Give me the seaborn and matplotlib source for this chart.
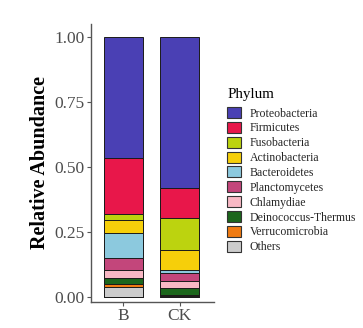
import matplotlib
matplotlib.use("Agg")
import matplotlib.pyplot as plt
from matplotlib.patches import Patch
import seaborn as sns
import pandas as pd
import numpy as np

samples = ["B", "CK"]
phyla = ["Proteobacteria", "Firmicutes", "Fusobacteria", "Actinobacteria",
         "Bacteroidetes", "Planctomycetes", "Chlamydiae", "Deinococcus-Thermus",
         "Verrucomicrobia", "Others"]
abund_B = [0.465, 0.215, 0.023, 0.048, 0.096, 0.049, 0.030, 0.021, 0.011, 0.041]
abund_CK = [0.582, 0.112, 0.126, 0.074, 0.013, 0.029, 0.028, 0.027, 0.005, 0.004]
colors = ["#4A40B4", "#E8174A", "#BCD30F", "#F6CF0A", "#8CC9DE",
          "#C3467B", "#F8B8C4", "#1C661C", "#F07B12", "#CCCCCC"]
y_ticks = [0.00, 0.25, 0.50, 0.75, 1.00]
y_tick_labels = ["0.00", "0.25", "0.50", "0.75", "1.00"]

sns.set_theme(style="white")
plt.rcParams["font.family"] = ["Liberation Serif", "DejaVu Serif"]

rows = []
for s, vals in zip(samples, [abund_B, abund_CK]):
    # cumulative from bottom (Others) upward
    cum = np.cumsum(vals[::-1])[::-1]
    for p, v, c in zip(phyla, vals, cum):
        rows.append({"Sample": s, "Phylum": p, "Abundance": v, "Cum": c})
df = pd.DataFrame(rows)

fig = plt.figure(figsize=(3.63, 3.28), dpi=100)
ax = fig.add_axes([0.25, 0.0802, 0.3395, 0.8466])

for p, col in zip(phyla, colors):
    sub = df[df["Phylum"] == p]
    sns.barplot(data=sub, x="Sample", y="Cum", order=samples, color=col,
                width=0.7, edgecolor="#1a1a1a", linewidth=0.7,
                saturation=1, errorbar=None, ax=ax)

ax.set_xlim(-0.58, 1.61)
ax.set_ylim(-0.017, 1.05)
ax.set_yticks(y_ticks)
ax.set_yticklabels(y_tick_labels)
ax.set_xlabel("")
ax.set_ylabel("Relative Abundance", fontsize=14.5, fontweight="bold",
              color="black", labelpad=3)
for sp in ["top", "right"]:
    ax.spines[sp].set_visible(False)
for sp in ["left", "bottom"]:
    ax.spines[sp].set_color("#555555")
    ax.spines[sp].set_linewidth(1.0)
ax.tick_params(axis="both", which="both", length=3, width=0.8,
               color="#555555", labelcolor="#4d4d4d", labelsize=12.5,
               left=True, bottom=True, pad=1.5)

fig.text(228 / 363, 1 - 98.3 / 328, "Phylum", fontsize=10.8, color="black",
         ha="left", va="baseline")
handles = [Patch(facecolor=c, edgecolor="#333333", linewidth=0.8) for c in colors]
leg = fig.legend(handles, phyla, loc="upper left",
                 bbox_to_anchor=(227 / 363, 1 - 107 / 328), frameon=False,
                 fontsize=8.5, handlelength=1.2,
                 handleheight=1.05, labelspacing=0.2, handletextpad=0.72,
                 borderpad=0, borderaxespad=0)

fig.savefig("out.png", dpi=100)
